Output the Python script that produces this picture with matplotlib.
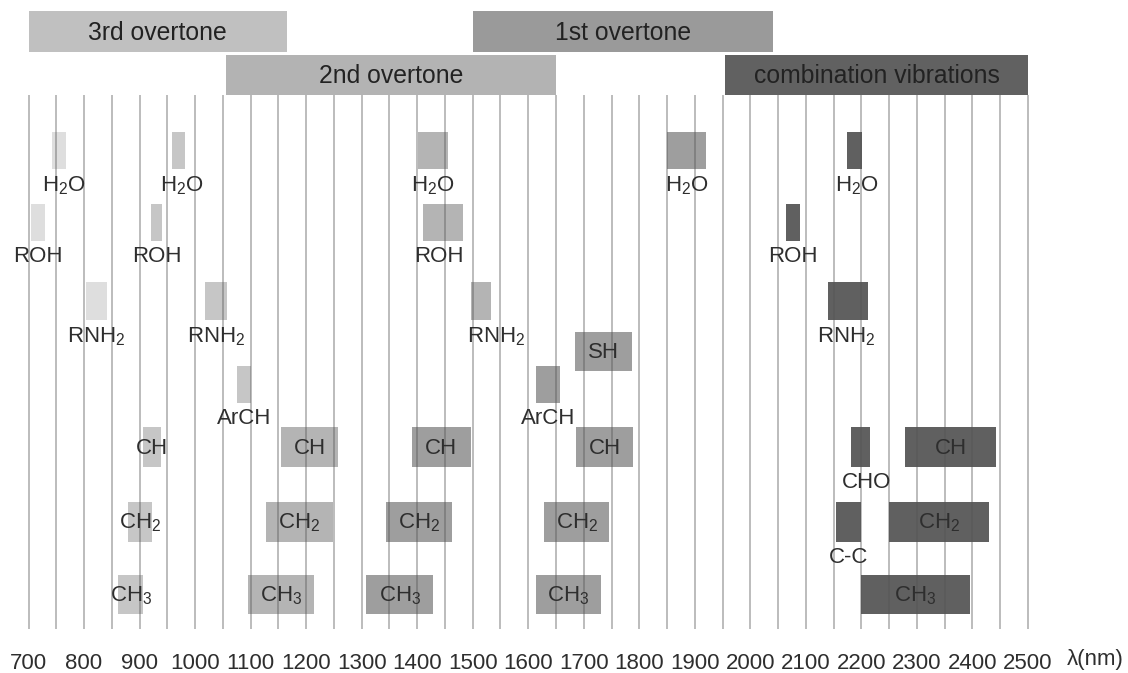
import matplotlib
matplotlib.use('Agg')
import matplotlib.pyplot as plt
from matplotlib.patches import Rectangle
import numpy as np

plt.rcParams['font.family'] = ['Liberation Sans', 'DejaVu Sans']
plt.rcParams['mathtext.fontset'] = 'custom'
plt.rcParams['mathtext.rm'] = 'Liberation Sans'
plt.rcParams['mathtext.it'] = 'Liberation Sans:italic'
plt.rcParams['mathtext.bf'] = 'Liberation Sans:bold'

# ---------------- data ----------------
band_names = ['3rd overtone', '2nd overtone', '1st overtone', 'combination vibrations']
band_start = [700, 1055, 1500, 1955]
band_end = [1165, 1650, 2040, 2500]
band_level = [0, 1, 0, 1]
band_colors = ['#c0c0c0', '#b3b3b3', '#9a9a9a', '#616161']

item_labels = ['H$_2$O', 'ROH', 'RNH$_2$',
               'H$_2$O', 'ROH', 'RNH$_2$', 'ArCH', 'CH', 'CH$_2$', 'CH$_3$',
               'CH', 'CH$_2$', 'CH$_3$', 'H$_2$O', 'ROH', 'RNH$_2$',
               'CH', 'CH$_2$', 'CH$_3$', 'ArCH', 'SH', 'CH', 'CH$_2$', 'CH$_3$', 'H$_2$O',
               'H$_2$O', 'ROH', 'RNH$_2$', 'CHO', 'CH', 'C-C', 'CH$_2$', 'CH$_3$']
item_start = [743, 704, 803,
              959, 920, 1017, 1075, 907, 880, 862,
              1154, 1127, 1096, 1402, 1411, 1497,
              1391, 1344, 1308, 1614, 1685, 1686, 1629, 1614, 1850,
              2174, 2064, 2140, 2181, 2279, 2154, 2250, 2199]
item_end = [768, 729, 842,
            982, 941, 1058, 1100, 938, 923, 907,
            1258, 1249, 1215, 1456, 1483, 1533,
            1496, 1463, 1429, 1658, 1787, 1789, 1746, 1731, 1920,
            2201, 2090, 2212, 2216, 2442, 2199, 2430, 2396]
item_row = ['H2O', 'ROH', 'RNH2',
            'H2O', 'ROH', 'RNH2', 'ArCH', 'CH', 'CH2', 'CH3',
            'CH', 'CH2', 'CH3', 'H2O', 'ROH', 'RNH2',
            'CH', 'CH2', 'CH3', 'ArCH', 'SH', 'CH', 'CH2', 'CH3', 'H2O',
            'H2O', 'ROH', 'RNH2', 'CH', 'CH', 'CH2', 'CH2', 'CH3']
item_group = [0, 0, 0,
              1, 1, 1, 1, 1, 1, 1,
              2, 2, 2, 2, 2, 2,
              3, 3, 3, 3, 3, 3, 3, 3, 3,
              4, 4, 4, 4, 4, 4, 4, 4]
group_colors = ['#dedede', '#c6c6c6', '#b4b4b4', '#9e9e9e', '#606060']

tick_values = list(range(700, 2501, 100))
grid_values = list(range(700, 2501, 50))

# ---------------- layout ----------------
row_top = {'H2O': 132, 'ROH': 204, 'RNH2': 282, 'SH': 332, 'ArCH': 366,
           'CH': 427, 'CH2': 502, 'CH3': 575}
row_height = {'H2O': 37, 'ROH': 37, 'RNH2': 38, 'SH': 39, 'ArCH': 37,
              'CH': 40, 'CH2': 40, 'CH3': 39}
inside_labels = {'SH', 'CH', 'CH$_2$', 'CH$_3$'}
label_dx = {0: 8, 3: 6, 14: -8, 15: 28, 27: -4, 28: 10, 25: 5}
band_top = [11, 55]
band_h = [41, 40]

W, H = 1128, 673
fig = plt.figure(figsize=(W / 100, H / 100), dpi=100)
bottom_px = 629
ax = fig.add_axes([0, (H - bottom_px) / H, 1, bottom_px / H])
px_left, px_right = 28.5, 1028.0
scale = (2500 - 700) / (px_right - px_left)
ax.set_xlim(700 - px_left * scale, 700 + (W - px_left) * scale)
ax.set_ylim(bottom_px, 0)
for s in ax.spines.values():
    s.set_visible(False)
ax.set_yticks([])
ax.set_xticks(tick_values)
ax.set_xticklabels([str(v) for v in tick_values])
ax.tick_params(axis='x', length=0, pad=17, labelsize=16, labelcolor='#2e2e2e')

txt_color = '#2e2e2e'
lab_size = 16

# bands
for name, s, e, lv, c in zip(band_names, band_start, band_end, band_level, band_colors):
    ax.add_patch(Rectangle((s, band_top[lv]), e - s, band_h[lv], facecolor=c,
                           edgecolor='none', zorder=2))
    ax.text((s + e) / 2, band_top[lv] + band_h[lv] / 2 + 1, name, ha='center', va='center',
            fontsize=17.8, color='#222222', zorder=5)

# gridlines
ax.vlines(grid_values, 95, bottom_px, colors='#555555', alpha=0.5, lw=1.1, zorder=3)

# items
for i, (lab, s, e, r, g) in enumerate(zip(item_labels, item_start, item_end, item_row, item_group)):
    top = row_top[r]
    h = row_height[r]
    ax.add_patch(Rectangle((s, top), e - s, h, facecolor=group_colors[g],
                           edgecolor='none', zorder=2))
    cx = (s + e) / 2
    if lab in inside_labels:
        ax.text(cx, top + h / 2 + 1, lab, ha='center', va='center', fontsize=lab_size,
                color=txt_color, zorder=5)
    else:
        ax.text(cx + label_dx.get(i, 0), top + h + 5, lab, ha='center', va='top',
                fontsize=lab_size, color=txt_color, zorder=5)

ax.text(2621, 660, 'λ(nm)', ha='center', va='center', fontsize=16, color=txt_color,
        clip_on=False)

fig.savefig('out.png', dpi=100)
